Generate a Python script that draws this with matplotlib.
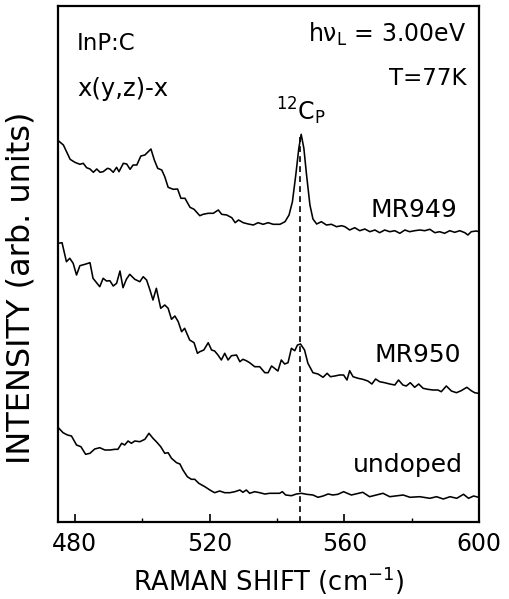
import matplotlib
matplotlib.use("Agg")
import matplotlib.pyplot as plt
from matplotlib.ticker import MultipleLocator

plt.rcParams['font.family'] = ['DejaVu Sans']
plt.rcParams['mathtext.fontset'] = 'dejavusans'

# ---- data (Raman shift in cm^-1, intensity in arbitrary units) ----
mr949_x = [475.1, 476.6, 478.6, 480.0, 481.5, 482.5, 483.5, 484.5, 485.5, 486.5, 487.5, 488.4,
           489.7, 490.4, 491.4, 492.4, 493.1, 494.4, 495.4, 496.4, 497.3, 498.4, 499.6, 500.8,
           502.6, 503.6, 504.6, 505.8, 506.7, 507.7, 509.2, 510.5, 511.5, 512.7, 514.2, 515.4,
           517.1, 518.1, 519.6, 521.1, 522.6, 523.6, 525.1, 526.6, 527.6, 528.6, 530.0, 531.5,
           533.0, 534.4, 535.9, 537.4, 538.9, 540.9, 542.4, 543.6, 544.6, 545.6, 546.5, 547.2,
           548.0, 548.8, 549.8, 550.7, 551.8, 553.2, 554.7, 556.2, 557.7, 559.2, 560.2, 561.6,
           563.1, 564.6, 566.1, 567.6, 569.1, 570.5, 572.0, 573.5, 575.0, 576.5, 578.0, 579.4,
           580.9, 582.4, 583.9, 585.4, 586.9, 588.3, 589.8, 591.3, 592.8, 594.3, 595.8, 596.7,
           597.7, 599.2, 600.0]
mr949_y = [381.3, 377.0, 362.7, 359.7, 357.7, 358.7, 354.3, 353.0, 349.7, 353.0, 349.7, 350.3,
           353.7, 353.0, 349.7, 354.7, 350.3, 358.7, 358.0, 352.7, 357.0, 357.0, 366.0, 367.0,
           373.0, 362.0, 353.7, 352.0, 345.3, 334.7, 332.7, 333.0, 323.7, 323.7, 314.7, 312.7,
           306.3, 307.7, 308.7, 308.7, 312.0, 307.7, 307.0, 304.3, 299.3, 302.0, 299.3, 298.0,
           297.0, 299.3, 297.7, 299.3, 297.7, 297.7, 300.3, 307.0, 320.3, 347.0, 373.7, 387.7,
           373.7, 347.0, 317.0, 303.0, 298.0, 300.3, 297.0, 297.7, 295.3, 296.3, 295.3, 292.0,
           294.3, 291.3, 293.0, 290.3, 292.0, 289.3, 292.0, 290.3, 291.3, 288.7, 292.0, 290.3,
           291.3, 292.0, 291.3, 292.7, 289.3, 290.3, 288.7, 291.3, 289.7, 291.3, 289.3, 287.0,
           290.3, 291.0, 290.3]

mr950_x = [475.0, 476.2, 477.5, 478.5, 479.5, 480.5, 481.5, 483.0, 484.5, 485.4, 487.4, 488.4,
           489.4, 490.4, 491.4, 492.4, 493.4, 494.3, 495.3, 496.3, 497.8, 499.3, 500.3, 501.3,
           502.3, 503.2, 504.2, 505.5, 506.7, 507.7, 508.7, 509.7, 510.7, 511.7, 512.6, 514.1,
           515.4, 516.4, 517.1, 518.3, 519.6, 520.6, 521.5, 522.5, 523.5, 524.5, 525.5, 526.5,
           528.0, 529.0, 529.9, 530.9, 531.9, 533.4, 534.9, 536.4, 537.4, 538.4, 539.3, 540.3,
           541.3, 542.3, 543.3, 544.3, 545.3, 546.1, 547.0, 548.2, 549.2, 550.7, 552.2, 553.7,
           554.9, 555.9, 557.2, 558.6, 559.8, 560.8, 561.6, 562.6, 564.1, 565.5, 567.0, 568.2,
           569.3, 570.5, 572.0, 573.5, 575.0, 576.1, 577.4, 578.4, 579.6, 580.9, 582.1, 583.4,
           584.8, 586.3, 587.8, 588.8, 590.3, 591.8, 593.3, 594.7, 596.4, 597.7, 598.7, 599.7]
mr950_y = [278.7, 279.3, 260.3, 263.7, 258.7, 247.0, 256.3, 257.7, 259.3, 243.7, 235.3, 243.7,
           241.0, 241.3, 236.0, 238.7, 251.0, 234.3, 242.7, 247.7, 242.7, 240.3, 245.3, 242.0,
           232.0, 222.0, 233.7, 213.7, 217.0, 213.7, 202.7, 206.0, 200.3, 190.3, 193.7, 182.0,
           179.3, 168.7, 170.3, 172.0, 179.3, 172.0, 171.0, 167.0, 162.0, 168.7, 162.0, 166.3,
           167.0, 160.3, 162.7, 161.3, 159.3, 155.3, 155.3, 149.3, 149.3, 156.0, 153.7, 151.0,
           162.0, 158.0, 159.3, 173.7, 171.3, 177.0, 178.0, 172.0, 158.7, 149.3, 148.0, 144.7,
           148.7, 145.3, 146.0, 147.0, 147.0, 142.0, 151.3, 145.3, 143.7, 142.7, 141.0, 138.0,
           143.0, 140.3, 139.3, 138.0, 137.0, 142.0, 137.0, 136.0, 139.3, 134.7, 138.0, 133.7,
           132.7, 132.0, 132.0, 130.3, 136.0, 131.0, 129.3, 131.3, 134.7, 131.3, 129.3, 128.7]

undoped_x = [475.0, 476.5, 477.8, 479.0, 480.5, 481.8, 483.2, 484.5, 485.9, 487.4, 488.9, 490.4,
             491.9, 492.8, 493.9, 494.8, 495.8, 496.8, 497.8, 499.3, 500.8, 502.0, 503.2, 504.2,
             505.5, 506.7, 507.7, 508.7, 510.2, 511.2, 512.1, 513.4, 514.6, 515.6, 516.8, 518.6,
             520.1, 521.5, 523.0, 524.5, 526.0, 527.5, 529.0, 529.9, 530.9, 531.9, 533.4, 534.9,
             536.4, 537.9, 539.3, 540.8, 541.6, 542.6, 544.3, 545.8, 547.3, 548.8, 550.7, 552.2,
             553.7, 555.2, 556.6, 558.1, 559.8, 562.1, 565.5, 567.5, 571.5, 573.5, 577.5, 579.5,
             582.4, 585.4, 587.4, 589.4, 591.4, 593.4, 595.4, 596.9, 598.4, 599.9]
undoped_y = [94.7, 89.3, 87.0, 86.0, 77.0, 75.3, 67.7, 68.7, 73.0, 74.3, 72.0, 72.0,
             72.7, 72.7, 78.7, 77.0, 81.0, 78.7, 81.0, 80.3, 82.7, 88.7, 83.7, 80.3,
             75.3, 68.7, 69.3, 63.7, 59.3, 58.0, 52.0, 45.3, 42.7, 42.7, 38.7, 35.3,
             32.0, 29.3, 31.0, 29.3, 29.3, 30.3, 32.0, 29.7, 32.0, 28.7, 30.3, 29.3,
             28.0, 28.7, 28.7, 28.7, 30.3, 27.0, 26.3, 28.0, 28.7, 27.7, 27.0, 24.7,
             26.0, 28.0, 27.0, 27.7, 30.3, 27.0, 29.7, 25.3, 28.7, 25.3, 27.0, 24.7,
             25.3, 23.7, 25.3, 23.0, 25.3, 23.7, 27.7, 23.7, 26.0, 24.7]

series_labels = ["MR949", "MR950", "undoped"]
peak_position = 547.0
x_ticks = [480, 520, 560, 600]

# ---- figure ----
fig = plt.figure(figsize=(5.10, 5.99), dpi=100)
ax = fig.add_axes([58 / 510, 1 - 522 / 599, (479 - 58) / 510, (522 - 6) / 599])

lw = 1.15
ax.plot(mr949_x, mr949_y, color='black', lw=lw)
ax.plot(mr950_x, mr950_y, color='black', lw=lw)
ax.plot(undoped_x, undoped_y, color='black', lw=lw)

ax.plot([peak_position, peak_position], [0, 385], color='black', lw=1.2,
        ls=(0, (3.5, 2.5)))

ax.set_xlim(475, 600)
ax.set_ylim(0, 516)

ax.set_xticks(x_ticks)
ax.xaxis.set_minor_locator(MultipleLocator(20))
ax.set_yticks([])
ax.tick_params(axis='x', which='major', direction='in', length=6, width=1.2,
               labelsize=17, pad=7, top=False)
ax.tick_params(axis='x', which='minor', direction='in', length=3, width=1.0, top=False)
for s in ax.spines.values():
    s.set_linewidth(1.6)

ax.set_xlabel("RAMAN SHIFT (cm$^{\\mathregular{-1}}$)", fontsize=18.5, labelpad=6)
ax.set_ylabel("INTENSITY (arb. units)", fontsize=23)
ax.yaxis.set_label_coords(-0.052, 0.4545)

ax.text(480.6, 472, "InP:C", fontsize=16.5, va='baseline', ha='left')
ax.text(480.6, 426, "x(y,z)-x", fontsize=17.5, va='baseline', ha='left')
ax.text(596.3, 480, "h\u03bd$_{\\mathregular{L}}$ = 3.00eV", fontsize=17, va='baseline', ha='right')
ax.text(596.3, 437, "T=77K", fontsize=16.5, va='baseline', ha='right')
ax.text(547.2, 402, "$^{\\mathregular{12}}$C$_{\\mathregular{P}}$", fontsize=17, va='baseline', ha='center')

ax.text(593.6, 305, series_labels[0], fontsize=18, va='baseline', ha='right')
ax.text(594.8, 160, series_labels[1], fontsize=18, va='baseline', ha='right')
ax.text(595.1, 50, series_labels[2], fontsize=18, va='baseline', ha='right')

fig.savefig("out.png", dpi=100)
